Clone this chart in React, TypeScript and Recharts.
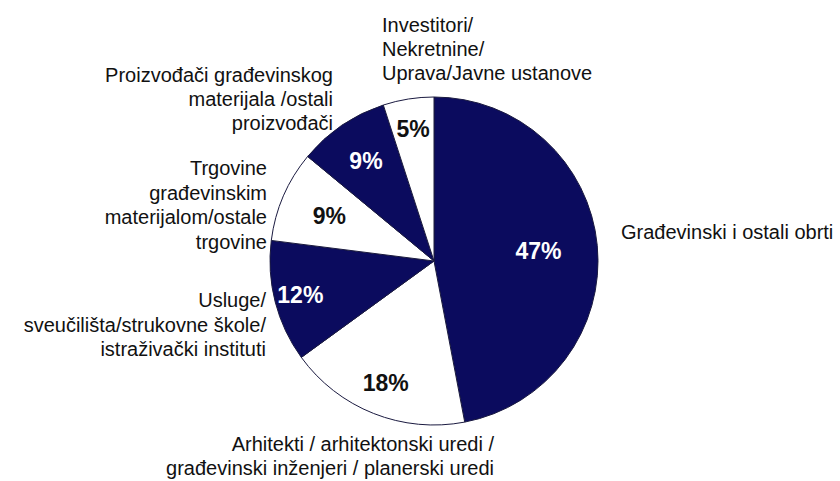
import React from 'react';
import { PieChart, Pie, Cell } from 'recharts';

const categories = [
  'Građevinski i ostali obrti',
  'Arhitekti / arhitektonski uredi / građevinski inženjeri / planerski uredi',
  'Usluge/ sveučilišta/strukovne škole/ istraživački instituti',
  'Trgovine građevinskim materijalom/ostale trgovine',
  'Proizvođači građevinskog materijala /ostali proizvođači',
  'Investitori/ Nekretnine/ Uprava/Javne ustanove',
];
const values = [47, 18, 12, 9, 9, 5];
const labelLines = [
  ['Građevinski i ostali obrti'],
  ['Arhitekti / arhitektonski uredi /', 'građevinski inženjeri / planerski uredi'],
  ['Usluge/', 'sveučilišta/strukovne škole/', 'istraživački instituti'],
  ['Trgovine', 'građevinskim', 'materijalom/ostale', 'trgovine'],
  ['Proizvođači građevinskog', 'materijala /ostali', 'proizvođači'],
  ['Investitori/', 'Nekretnine/', 'Uprava/Javne ustanove'],
];

const data = categories.map((name, i) => ({ name, value: values[i] }));

const NAVY = '#0b0b5e';
const fills = [NAVY, '#ffffff', NAVY, '#ffffff', NAVY, '#ffffff'];
const pctColors = ['#ffffff', '#111111', '#ffffff', '#111111', '#ffffff', '#111111'];

// layout: radial distance of percentage labels, and outer label anchors relative to centre
const pctRadius = [105, 131, 138, 114, 121, 134];
const outerLayout = [
  { dx: 187, dy: -29, anchor: 'start', gap: 24 },
  { dx: 60, dy: 183, anchor: 'end', gap: 24 },
  { dx: -168, dy: 39, anchor: 'end', gap: 24.5 },
  { dx: -167, dy: -93, anchor: 'end', gap: 24.7 },
  { dx: -101, dy: -186, anchor: 'end', gap: 24 },
  { dx: -52, dy: -236, anchor: 'start', gap: 24 },
];

const FONT = '"Liberation Sans", Arial, Helvetica, sans-serif';
const RAD = Math.PI / 180;

const renderLabel = (props: any) => {
  const { cx, cy, midAngle, index, value } = props;
  const r = pctRadius[index];
  const px = cx + r * Math.cos(-midAngle * RAD);
  const py = cy + r * Math.sin(-midAngle * RAD);
  const lay = outerLayout[index];
  const lines = labelLines[index];
  return (
    <g key={`lbl-${index}`}>
      <text
        x={px}
        y={py}
        textAnchor="middle"
        dominantBaseline="central"
        fill={pctColors[index]}
        fontFamily={FONT}
        fontWeight="bold"
        fontSize={23}
      >
        {`${value}%`}
      </text>
      {lines.map((ln, j) => (
        <text
          key={j}
          x={cx + lay.dx}
          y={cy + lay.dy + j * lay.gap}
          textAnchor={lay.anchor as any}
          dominantBaseline="central"
          fill="#111111"
          fontFamily={FONT}
          fontSize={20}
        >
          {ln}
        </text>
      ))}
    </g>
  );
};

export default function App() {
  return (
    <div style={{ position: 'absolute', left: 0, top: 0, width: 840, height: 481, background: '#ffffff' }}>
      <PieChart width={840} height={481} margin={{ top: 0, right: 0, bottom: 0, left: 0 }}>
        <Pie
          data={data}
          dataKey="value"
          nameKey="name"
          cx={434}
          cy={261}
          outerRadius={164}
          startAngle={90}
          endAngle={-270}
          stroke="#1a1a40"
          strokeWidth={1}
          label={renderLabel}
          labelLine={false}
          isAnimationActive={false}
        >
          {data.map((d, i) => (
            <Cell key={d.name} fill={fills[i]} />
          ))}
        </Pie>
      </PieChart>
    </div>
  );
}
